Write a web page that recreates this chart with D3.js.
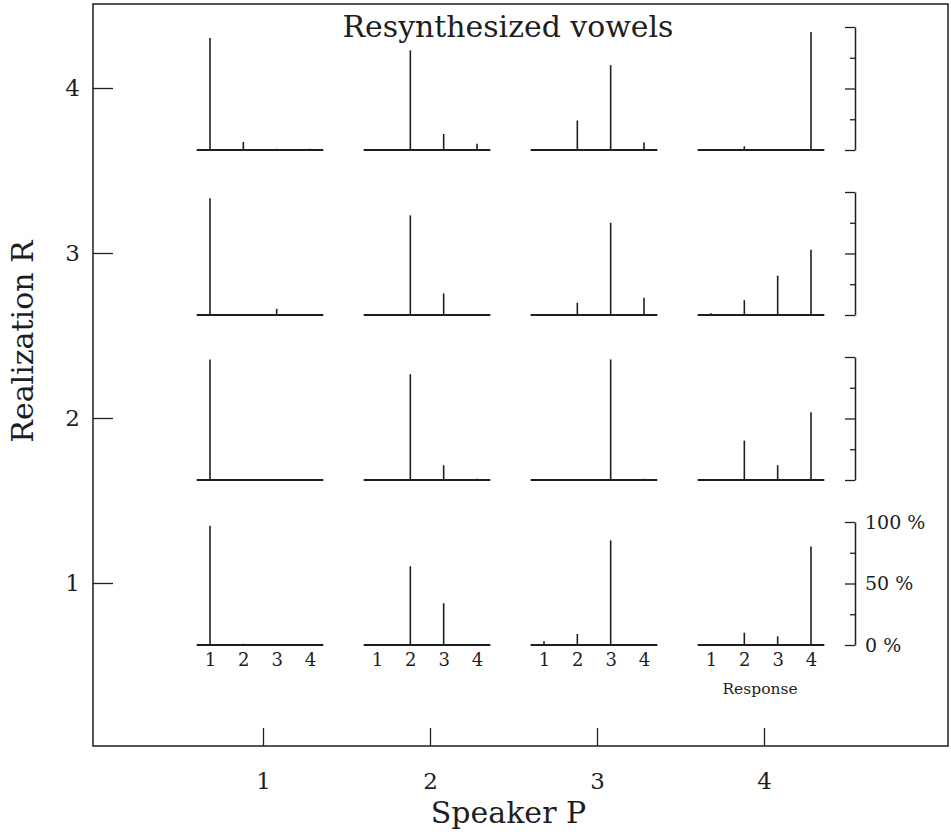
<!DOCTYPE html>
<html>
<head>
<meta charset="utf-8">
<script src="https://cdn.jsdelivr.net/npm/d3@7"></script>
<style>
  html, body { margin: 0; padding: 0; background: #fff; }
  svg { display: block; }
</style>
</head>
<body>
<svg id="chart" width="951" height="835"></svg>
<script>
// Speakers (columns), realizations (rows) and the four response categories
const speakers = [1, 2, 3, 4];
const realizations = [4, 3, 2, 1];
const responses = [1, 2, 3, 4];
const percentTicks = [0, 25, 50, 75, 100];
const percentLabels = [0, 50, 100];

// Response percentages, one array per speaker P (1..4), each listing responses 1..4
const realization4 = [[91, 6.5, 1, 1], [0.5, 81, 13, 5], [0.8, 24, 69, 6], [0, 3, 0.5, 96]];
const realization3 = [[95, 0.5, 5, 0.5], [0.5, 81, 17.5, 0], [0, 10, 75, 14], [1.5, 12, 32, 53]];
const realization2 = [[98, 0, 0, 0.5], [0.5, 86, 12, 1], [0, 0, 98, 1], [0, 32, 12, 55]];
const realization1 = [[97, 1, 0, 0], [0, 64, 34, 0], [3, 9, 85, 0], [0, 10, 7, 80]];
const byRealization = {4: realization4, 3: realization3, 2: realization2, 1: realization1};

const svg = d3.select("#chart");
const ink = "#1e1e1e";
const serif = "'DejaVu Serif', serif";

// Outer frame and scales for speaker (x) and realization (y)
const frame = {left: 93, right: 948, top: 4, bottom: 746};
const x = d3.scaleLinear().domain([1, 4]).range([263, 764]);
const y = d3.scaleLinear().domain([1, 4]).range([583, 88]);

svg.append("rect")
  .attr("x", frame.left).attr("y", frame.top)
  .attr("width", frame.right - frame.left).attr("height", frame.bottom - frame.top)
  .attr("fill", "none").attr("stroke", ink).attr("stroke-width", 1.5);

const leftAxis = svg.append("g")
  .attr("transform", `translate(${frame.left},0)`)
  .call(d3.axisLeft(y).tickValues(realizations).tickFormat(d3.format("d")).tickSizeInner(-20).tickSizeOuter(0).tickPadding(13));
const bottomAxis = svg.append("g")
  .attr("transform", `translate(0,${frame.bottom})`)
  .call(d3.axisBottom(x).tickValues(speakers).tickFormat(d3.format("d")).tickSizeInner(-18).tickSizeOuter(0).tickPadding(27));
[leftAxis, bottomAxis].forEach(g => {
  g.select(".domain").remove();
  g.selectAll(".tick line").attr("stroke", ink).attr("stroke-width", 1.3);
  g.selectAll(".tick text")
    .attr("fill", ink)
    .style("font-family", serif)
    .style("font-size", "23px");
});

// Axis titles
svg.append("text")
  .attr("transform", `translate(33,${(y(4) + y(1)) / 2 + 6}) rotate(-90)`)
  .attr("text-anchor", "middle")
  .attr("fill", ink)
  .style("font-family", serif)
  .style("font-size", "30px")
  .text("Realization R");

svg.append("text")
  .attr("x", (x(2) + x(3)) / 2 - 5).attr("y", 823)
  .attr("text-anchor", "middle")
  .attr("fill", ink)
  .style("font-family", serif)
  .style("font-size", "30px")
  .text("Speaker P");

// Title
const title = svg.append("text")
  .attr("x", 508).attr("y", 37)
  .attr("text-anchor", "middle")
  .attr("fill", ink)
  .style("font-family", serif)
  .style("font-size", "24px")
  .text("Resynthesized vowels");
const titleWidth = title.node().getComputedTextLength();
title.style("font-size", (24 * 331 / titleWidth).toFixed(2) + "px");

// Small panels: one per (speaker, realization)
const axisX = 855;
realizations.forEach(R => {
  const py = d3.scaleLinear().domain([0, 100]).range([y(R) + 62, y(R) - 61]);

  // Percentage axis on the right of each row
  const pAxis = svg.append("g").attr("transform", `translate(${axisX},0)`);
  pAxis.call(d3.axisLeft(py).tickValues(percentTicks).tickFormat("").tickSizeOuter(0).tickSizeInner(10));
  pAxis.select(".domain").attr("stroke", ink).attr("stroke-width", 1.5);
  pAxis.selectAll(".tick line")
    .attr("stroke", ink).attr("stroke-width", 1.3)
    .attr("x2", d => percentLabels.includes(d) ? -10 : -5);

  if (R === 1) {
    svg.append("g").selectAll("text")
      .data(percentLabels)
      .join("text")
      .attr("x", axisX + 10)
      .attr("y", d => py(d))
      .attr("dy", "0.35em")
      .attr("fill", ink)
      .style("font-family", serif)
      .style("font-size", "19px")
      .text(d => d + " %");
  }

  speakers.forEach((P, i) => {
    const px = d3.scaleLinear().domain([1, 4]).range([x(P) - 53, x(P) + 47]);
    const values = byRealization[R][i];
    const g = svg.append("g");

    g.append("line")
      .attr("x1", px(0.6)).attr("x2", px(4.4))
      .attr("y1", py(0)).attr("y2", py(0))
      .attr("stroke", ink).attr("stroke-width", 2);

    g.selectAll("line.bar")
      .data(responses.map((r, j) => ({r, v: values[j]})))
      .join("line")
      .attr("class", "bar")
      .attr("x1", d => px(d.r)).attr("x2", d => px(d.r))
      .attr("y1", py(0)).attr("y2", d => py(d.v))
      .attr("stroke", ink).attr("stroke-width", 1.6);

    if (R === 1) {
      const rAxis = svg.append("g")
        .attr("transform", `translate(0,${py(0)})`)
        .call(d3.axisBottom(px).tickValues(responses).tickFormat(d3.format("d")).tickSize(0).tickPadding(8));
      rAxis.select(".domain").remove();
      rAxis.selectAll(".tick text")
        .attr("fill", ink)
        .style("font-family", serif)
        .style("font-size", "18px");
    }
  });
});

// Response caption under the last panel
svg.append("text")
  .attr("x", x(4) - 4).attr("y", 694)
  .attr("text-anchor", "middle")
  .attr("fill", ink)
  .style("font-family", serif)
  .style("font-size", "15.5px")
  .text("Response");
</script>
</body>
</html>
